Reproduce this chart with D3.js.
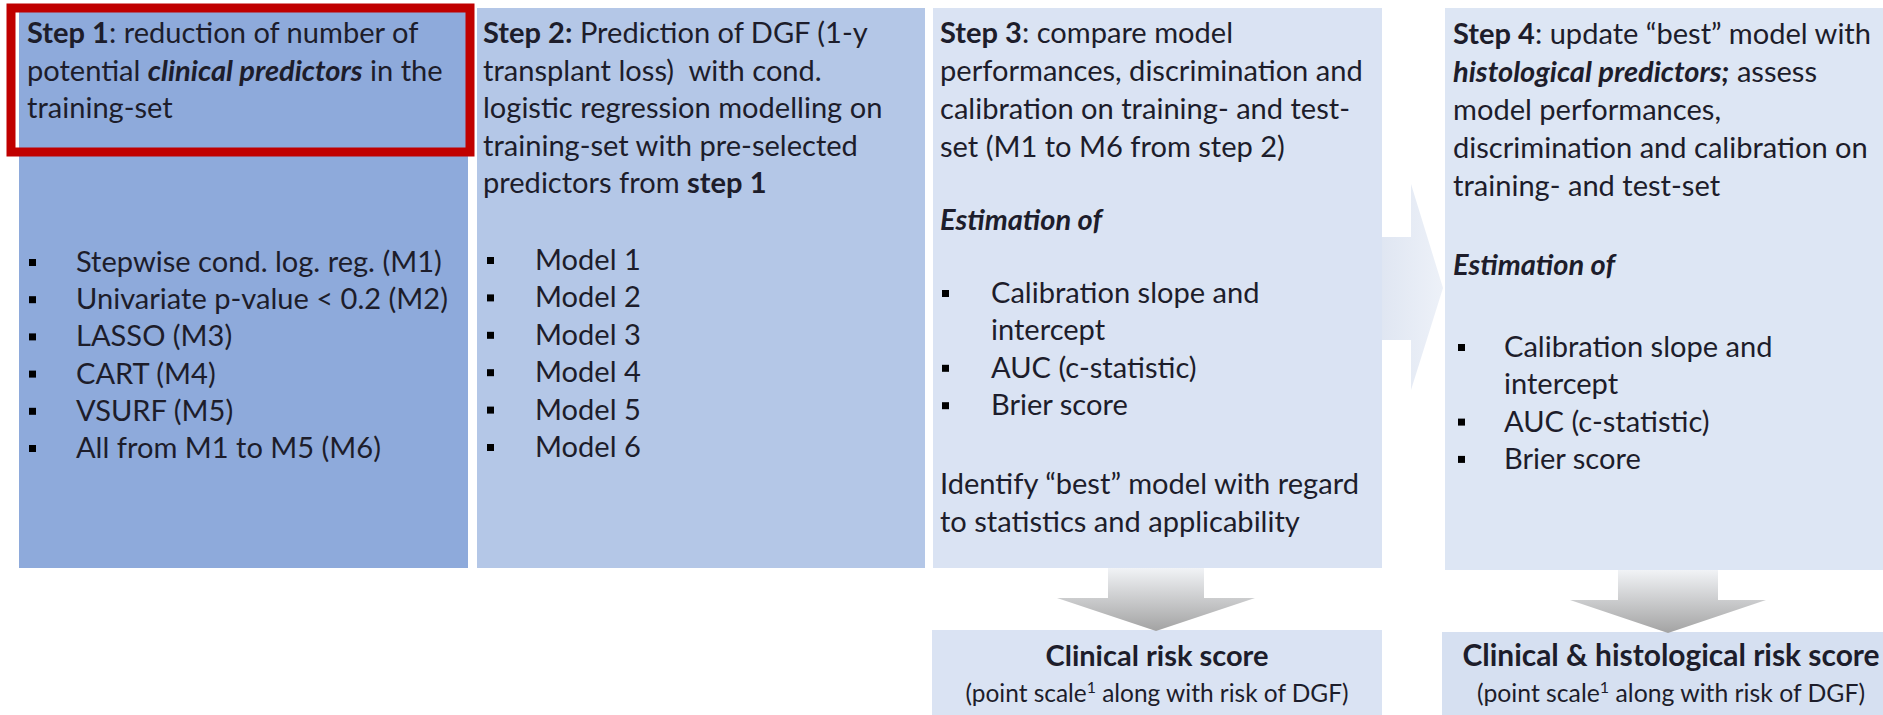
<!DOCTYPE html>
<html>
<head>
<meta charset="utf-8">
<script src="https://cdn.jsdelivr.net/npm/d3@7"></script>
<style>
  html, body { margin: 0; padding: 0; background: #fff; }
  svg { display: block; }
  text { font-family: Lato, "Open Sans", sans-serif; fill: #1d1d2b; }
</style>
</head>
<body>
<script>
// text of the four steps, one line = list of [text, style] runs
const step1Head = [
  [['Step 1', 'b'], [': reduction of number of', '']],
  [['potential ', ''], ['clinical predictors', 'bi'], [' in the', '']],
  [['training-set', '']]
];
const step1Items = [
  ['Stepwise cond. log. reg. (M1)'],
  ['Univariate p-value < 0.2 (M2)'],
  ['LASSO (M3)'],
  ['CART (M4)'],
  ['VSURF (M5)'],
  ['All from M1 to M5 (M6)']
];
const step2Head = [
  [['Step 2:', 'b'], [' Prediction of DGF (1-y', '']],
  [['transplant loss)  with cond.', '']],
  [['logistic regression modelling on', '']],
  [['training-set with pre-selected', '']],
  [['predictors from ', ''], ['step 1', 'b']]
];
const step2Items = [['Model 1'], ['Model 2'], ['Model 3'], ['Model 4'], ['Model 5'], ['Model 6']];
const step3Head = [
  [['Step 3', 'b'], [': compare model', '']],
  [['performances, discrimination and', '']],
  [['calibration on training- and test-', '']],
  [['set (M1 to M6 from step 2)', '']]
];
const step4Head = [
  [['Step 4', 'b'], [': update \u201cbest\u201d model with', '']],
  [['histological predictors;', 'bi'], [' assess', '']],
  [['model performances,', '']],
  [['discrimination and calibration on', '']],
  [['training- and test-set', '']]
];
const estimationLabel = [[['Estimation of', 'bi']]];
const estimationItems = [['Calibration slope and', 'intercept'], ['AUC (c-statistic)'], ['Brier score']];
const step3Foot = [
  [['Identify \u201cbest\u201d model with regard', '']],
  [['to statistics and applicability', '']]
];
const outcomes = ['Clinical risk score', 'Clinical & histological risk score'];
const outcomeNote = [['(point scale', ''], ['1', 'sup'], [' along with risk of DGF)', '']];

const width = 1883;
const height = 715;

const svg = d3.select('body').append('svg')
  .attr('width', width)
  .attr('height', height);

const defs = svg.append('defs');
const grey = defs.append('linearGradient')
  .attr('id', 'down').attr('x1', 0).attr('y1', 0).attr('x2', 0).attr('y2', 1);
grey.append('stop').attr('offset', 0).attr('stop-color', '#f1f3f6');
grey.append('stop').attr('offset', 1).attr('stop-color', '#a3a3a3');
const pale = defs.append('linearGradient')
  .attr('id', 'right').attr('x1', 0).attr('y1', 0).attr('x2', 1).attr('y2', 0);
pale.append('stop').attr('offset', 0).attr('stop-color', '#dde4f1');
pale.append('stop').attr('offset', 1).attr('stop-color', '#edf1f8');

// scale a text so it spans the wanted width
function fit(sel, size, target) {
  sel.attr('font-size', size);
  const len = sel.node().getComputedTextLength();
  const s = size * target / len;
  sel.attr('font-size', s);
  return s;
}

// body font size fitted on the first line of step 1
const probe = svg.append('text').text('Step 1: reduction of number of');
const fs = fit(probe, 26, 391);
probe.remove();

// boxes
const boxes = [
  { x: 19, y: 9, w: 449, h: 559, fill: '#8eaadb' },
  { x: 477, y: 8, w: 448, h: 560, fill: '#b4c7e7' },
  { x: 933, y: 8, w: 449, h: 560, fill: '#dae3f3' },
  { x: 1445, y: 8, w: 438, h: 562, fill: '#dde6f4' },
  { x: 932, y: 630, w: 450, h: 85, fill: '#dae3f3' },
  { x: 1442, y: 632, w: 441, h: 83, fill: '#d6e0f1' }
];

// arrow from step 3 to step 4 (drawn under the boxes)
const ra = d3.path();
ra.moveTo(1370, 237); ra.lineTo(1411, 237); ra.lineTo(1411, 184);
ra.lineTo(1443, 288); ra.lineTo(1411, 390); ra.lineTo(1411, 340);
ra.lineTo(1370, 340); ra.closePath();
svg.append('path').attr('d', ra.toString()).attr('fill', 'url(#right)');

svg.selectAll('rect.box')
  .data(boxes)
  .join('rect')
  .attr('class', 'box')
  .attr('x', (d) => d.x).attr('y', (d) => d.y)
  .attr('width', (d) => d.w).attr('height', (d) => d.h)
  .attr('fill', (d) => d.fill);

// down arrows into the risk scores
const downArrows = [
  { cx: 1156, top: 568, shaft: 48, head: 99, base: 598, tip: 631 },
  { cx: 1668, top: 570, shaft: 50, head: 98, base: 600, tip: 633 }
];
svg.selectAll('path.down')
  .data(downArrows)
  .join('path')
  .attr('class', 'down')
  .attr('fill', 'url(#down)')
  .attr('d', (d) => {
    const p = d3.path();
    p.moveTo(d.cx - d.shaft, d.top); p.lineTo(d.cx + d.shaft, d.top);
    p.lineTo(d.cx + d.shaft, d.base); p.lineTo(d.cx + d.head, d.base);
    p.lineTo(d.cx, d.tip); p.lineTo(d.cx - d.head, d.base);
    p.lineTo(d.cx - d.shaft, d.base); p.closePath();
    return p.toString();
  });

// red frame round the step 1 header
svg.append('rect')
  .attr('x', 11).attr('y', 8).attr('width', 459).attr('height', 144)
  .attr('fill', 'none').attr('stroke', '#c00000').attr('stroke-width', 9);

function runs(sel, line) {
  line.forEach(([t, s]) => {
    const ts = sel.append('tspan').text(t);
    if (s.includes('b')) ts.attr('font-weight', 700);
    if (s.includes('i')) ts.attr('font-style', 'italic');
    if (s === 'sup') ts.attr('baseline-shift', 'super').attr('font-size', '0.65em');
  });
}

// block of lines: x, first baseline y0, line step dy
function block(lines, x, y0, dy) {
  lines.forEach((line, i) => {
    const t = svg.append('text')
      .attr('x', x).attr('y', y0 + i * dy)
      .attr('font-size', fs)
      .style('white-space', 'pre');
    runs(t, line);
  });
}

// bullet list; items may wrap to several lines
function bullets(items, bx, tx, y0, dy) {
  let row = 0;
  items.forEach((item) => {
    const y = y0 + row * dy;
    svg.append('rect')
      .attr('x', bx).attr('y', y - 13).attr('width', 7).attr('height', 7)
      .attr('fill', '#000');
    item.forEach((l, j) => {
      svg.append('text')
        .attr('x', tx).attr('y', y + j * dy)
        .attr('font-size', fs).text(l);
    });
    row += item.length;
  });
}

block(step1Head, 27, 43, 37.5);
bullets(step1Items, 29, 76, 272, 37.2);

block(step2Head, 483, 43, 37.5);
bullets(step2Items, 487, 535, 270, 37.4);

block(step3Head, 940, 43, 38);
block(estimationLabel, 940, 230, 0);
bullets(estimationItems, 942, 991, 303, 37.4);
block(step3Foot, 940, 494, 38);

block(step4Head, 1453, 44, 38);
block(estimationLabel, 1453, 275, 0);
bullets(estimationItems, 1458, 1504, 357, 37.3);

// risk score labels, widths
const centres = [1157, 1671];
const titleWidths = [223, 417];
const noteWidths = [383, 388];
outcomes.forEach((o, i) => {
  const t = svg.append('text')
    .attr('x', centres[i]).attr('y', 666)
    .attr('text-anchor', 'middle')
    .attr('font-weight', 700)
    .text(o);
  fit(t, fs, titleWidths[i]);
  const n = svg.append('text')
    .attr('x', centres[i]).attr('y', 702)
    .attr('text-anchor', 'middle');
  runs(n, outcomeNote);
  fit(n, fs * 0.8, noteWidths[i]);
});
</script>
</body>
</html>
